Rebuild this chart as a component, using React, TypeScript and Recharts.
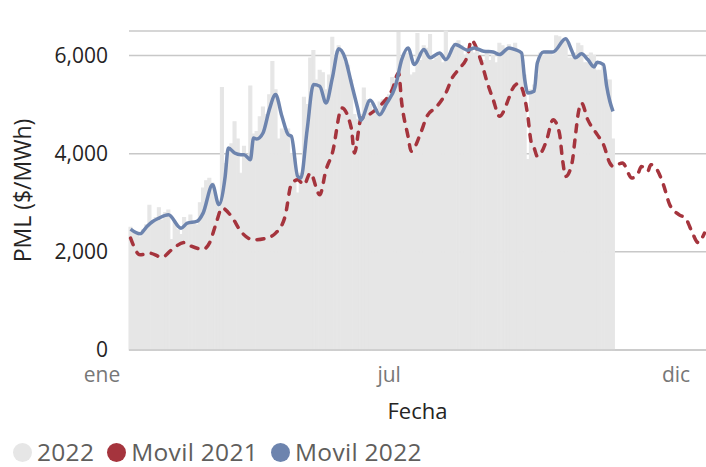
import React from 'react';
import {
  ComposedChart,
  Bar,
  Line,
  XAxis,
  YAxis,
  CartesianGrid,
  Legend,
} from 'recharts';

// Each category is a 2-day bucket of the year (183 buckets: ene → dic)
const bucketCount = 183;
const categories: number[] = Array.from({ length: bucketCount }, (_, i) => i);

// X tick labels (bucket index → label)
const monthTicks: number[] = [0, 82, 173];
const monthLabels: Record<number, string> = { 0: 'ene', 82: 'jul', 173: 'dic' };

// Y ticks
const yTicks: number[] = [0, 2000, 4000, 6000];

// 2022 PML per bucket (gray bars)
const serie2022: number[] = [
  2500, 2400, 2350, 2300, 2450, 2550, 2950, 2600, 2700, 2900,
  2650, 2800, 2850, 2250, 2600, 2450, 2350, 2700, 2550, 2750,
  2600, 2550, 3000, 3300, 3450, 3500, 3400, 3100, 2900, 5350,
  3800, 4000, 4200, 4650, 4300, 3600, 4150, 3900, 5380, 4400,
  4450, 4750, 4950, 4800, 5200, 5880, 5300, 4300, 4500, 4450,
  4500, 4000, 3900, 3200, 3600, 5150, 5000, 5950, 6100, 5500,
  5700, 5650, 5300, 5600, 6370, 5900, 6200, 6050, 5850, 5800,
  5500, 4800, 4700, 4800, 5340, 5100, 5000, 4900, 4850, 5050,
  5100, 5000, 5200, 5550, 5500, 6470, 5900, 6000, 6050, 5600,
  5650, 6450, 5900, 6200, 6150, 6430, 5900, 5950, 6050, 5850,
  6500, 6000, 6150, 6250, 6300, 6200, 6000, 6100, 6150, 6050,
  6100, 5950, 5900, 6050, 5900, 6000, 5850, 6250, 6200, 6150,
  6220, 6100, 6250, 6100, 6050, 5600, 3880, 5300, 5400, 5600,
  6050, 6000, 6100, 6050, 6000, 6400, 6380, 6300, 6350, 5950,
  5950, 6050, 6250, 6200, 5850, 5850, 6050, 6000, 5700, 5700,
  5800, 5500, 5500, 4300,
];

// Movil 2022: [bucket, value]
const movil2022: [number, number][] = [
  [0, 2463], [3, 2367], [5, 2503], [7, 2619], [9, 2687], [12, 2755],
  [16, 2483], [18, 2585], [21, 2619], [23, 2789], [26, 3367], [28, 2959],
  [30, 3537], [31, 4116], [33, 4014], [35, 3980], [36, 3980], [38, 3878],
  [39, 4320], [40, 4300], [42, 4422], [44, 4898], [46, 5204], [48, 4762],
  [50, 4388], [51, 4354], [53, 3537], [54, 3503], [56, 4490], [58, 5408],
  [60, 5374], [62, 5034], [64, 5544], [66, 6136], [68, 5953], [70, 5442],
  [72, 4932], [73, 4680], [76, 5088], [79, 4796], [81, 5000], [84, 5374],
  [86, 5918], [88, 6156], [90, 5816], [93, 6122], [95, 5953], [98, 6054],
  [100, 5918], [103, 6224], [107, 6109], [109, 6156], [112, 6088], [115, 6074],
  [117, 6020], [120, 6156], [122, 6122], [124, 6054], [125, 5510], [126, 5238],
  [128, 5272], [129, 5850], [131, 6074], [134, 6074], [138, 6340], [140, 6088],
  [141, 5953], [143, 6034], [145, 5918], [147, 5769], [148, 5864], [150, 5816],
  [151, 5374], [152, 5068], [153, 4864],
];

// Movil 2021: [bucket, value]
const movil2021: [number, number][] = [
  [0, 2279], [3, 1939], [6, 1973], [10, 1891], [13, 2041], [17, 2190],
  [19, 2122], [23, 2054], [25, 2177], [27, 2551], [29, 2891], [32, 2721],
  [35, 2415], [39, 2245], [43, 2279], [46, 2381], [49, 2721], [51, 3380],
  [53, 3469], [55, 3367], [57, 3605], [60, 3163], [62, 3673], [64, 4014],
  [67, 4932], [70, 4520], [71, 4014], [73, 4694], [76, 4810], [80, 5034],
  [83, 5306], [85, 5646], [86, 5034], [88, 4354], [89, 4048], [92, 4422],
  [94, 4762], [97, 4952], [100, 5238], [102, 5544], [104, 5714], [107, 6020],
  [108, 6313], [111, 5918], [113, 5476], [115, 5102], [117, 4762], [120, 5136],
  [121, 5306], [123, 5429], [125, 5136], [126, 4762], [127, 4252], [128, 4116],
  [129, 3946], [131, 4116], [132, 4286], [134, 4694], [136, 4422], [137, 3878],
  [138, 3537], [140, 3810], [141, 4320], [142, 4830], [143, 5034], [145, 4694],
  [148, 4388], [150, 4184], [152, 3810], [153, 3741], [156, 3810], [159, 3503],
  [161, 3605], [162, 3741], [164, 3639], [165, 3776], [167, 3673], [169, 3367],
  [171, 2959], [174, 2755], [176, 2687], [178, 2415], [180, 2190], [182, 2381],
];

const COLOR_2022 = '#E6E6E6';
const COLOR_M21 = '#A5343D';
const COLOR_M22 = '#6D84AE';
const FONT = '"Segoe UI", "Open Sans", sans-serif';

const m22Map = new Map<number, number>(movil2022);
const m21Map = new Map<number, number>(movil2021);

const data = categories.map((r) => ({
  r,
  v2022: r < serie2022.length ? serie2022[r] : null,
  m22: m22Map.has(r) ? m22Map.get(r)! : null,
  m21: m21Map.has(r) ? m21Map.get(r)! : null,
}));

const XTick = (props: any) => {
  const { x, y, payload } = props;
  const label = monthLabels[payload.value];
  if (!label) return null;
  const dx = payload.value === 0 ? -28.5 : 0;
  return (
    <text
      x={x + dx}
      y={y + 1}
      dy="0.71em"
      textAnchor="middle"
      fill="#777777"
      fontSize={21}
      fontFamily={FONT}
    >
      {label}
    </text>
  );
};

const legendItems = [
  { name: '2022', color: COLOR_2022 },
  { name: 'Movil 2021', color: COLOR_M21 },
  { name: 'Movil 2022', color: COLOR_M22 },
];

const LegendContent = () => (
  <div
    style={{
      width: 706,
      height: 30,
      display: 'flex',
      alignItems: 'center',
      paddingLeft: 13,
      boxSizing: 'border-box',
      fontFamily: FONT,
      fontSize: 24.5,
      letterSpacing: 0.3,
      color: '#605E5C',
      lineHeight: '30px',
      whiteSpace: 'nowrap',
    }}
  >
    {legendItems.map((it) => (
      <div key={it.name} style={{ display: 'flex', alignItems: 'center', marginRight: 13 }}>
        <span
          style={{
            display: 'inline-block',
            width: 19,
            height: 19,
            borderRadius: '50%',
            background: it.color,
            marginRight: 5,
          }}
        />
        <span>{it.name}</span>
      </div>
    ))}
  </div>
);

export default function App() {
  return (
    <div style={{ position: 'absolute', left: 0, top: 0, width: 706, height: 467, background: '#fff' }}>
      <ComposedChart
        width={706}
        height={467}
        data={data}
        margin={{ top: 31, right: 0, left: 0, bottom: 0 }}
        barCategoryGap={0}
        barGap={0}
      >
        <CartesianGrid vertical={false} stroke="#C8C8C8" strokeWidth={1.5} />
        <YAxis
          width={129}
          domain={[0, 6500]}
          ticks={yTicks}
          axisLine={false}
          tickLine={false}
          tickMargin={15}
          tickFormatter={(v: number) => v.toLocaleString('en-US')}
          tick={{ fontSize: 21, fill: '#252423', fontFamily: FONT }}
          label={{
            content: (p: any) => {
              const vb = p.viewBox || {};
              const cy = (vb.y ?? 31) + (vb.height ?? 319) / 2;
              return (
                <text
                  x={22}
                  y={cy}
                  transform={`rotate(-90, 22, ${cy})`}
                  textAnchor="middle"
                  dominantBaseline="central"
                  fontSize={23}
                  fill="#252423"
                  fontFamily={FONT}
                >
                  PML ($/MWh)
                </text>
              );
            },
          }}
        />
        <Bar dataKey="v2022" name="2022" fill={COLOR_2022} stroke={COLOR_2022} strokeWidth={1.1} isAnimationActive={false} />
        <Line
          dataKey="m21"
          name="Movil 2021"
          type="monotone"
          stroke={COLOR_M21}
          strokeWidth={3.5}
          strokeDasharray="7 8.5"
          strokeLinecap="round"
          dot={false}
          activeDot={false}
          connectNulls
          isAnimationActive={false}
        />
        <Line
          dataKey="m22"
          name="Movil 2022"
          type="monotone"
          stroke={COLOR_M22}
          strokeWidth={3.5}
          dot={false}
          activeDot={false}
          connectNulls
          isAnimationActive={false}
        />
        <XAxis
          dataKey="r"
          type="category"
          ticks={monthTicks}
          interval={0}
          height={87}
          tickLine={false}
          tickSize={6}
          tickMargin={10}
          axisLine={{ stroke: '#C8C8C8', strokeWidth: 1.5 }}
          tick={<XTick />}
          label={{
            content: (p: any) => {
              const vb = p.viewBox || {};
              const cx = (vb.x ?? 129) + (vb.width ?? 577) / 2;
              return (
                <text
                  x={cx}
                  y={(vb.y ?? 350) + 60}
                  textAnchor="middle"
                  dominantBaseline="central"
                  fontSize={22}
                  fill="#252423"
                  fontFamily={FONT}
                >
                  Fecha
                </text>
              );
            },
          }}
        />
        <Legend verticalAlign="bottom" content={<LegendContent />} />
      </ComposedChart>
    </div>
  );
}
